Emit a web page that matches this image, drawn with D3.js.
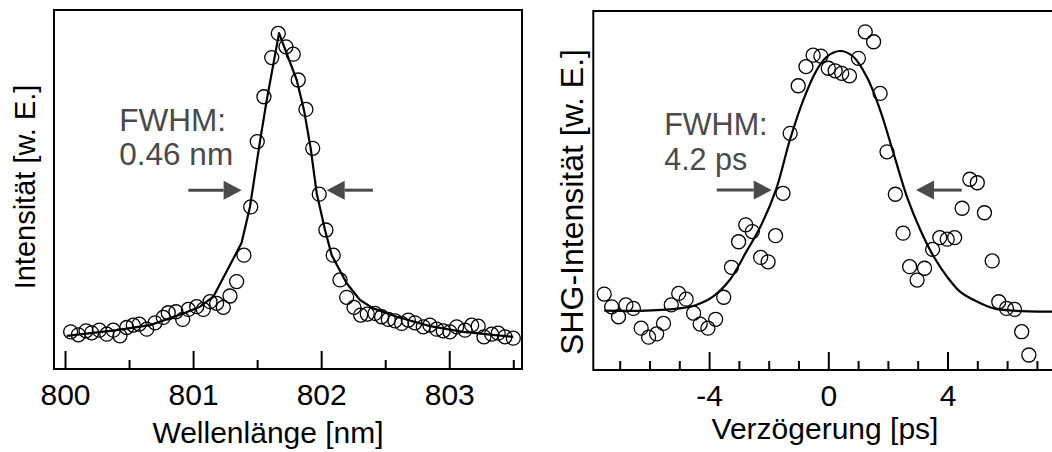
<!DOCTYPE html>
<html>
<head>
<meta charset="utf-8">
<script src="https://cdn.jsdelivr.net/npm/d3@7"></script>
<style>
  html, body { margin: 0; padding: 0; background: #fff; }
  svg { display: block; font-family: "Liberation Sans", Arial, Helvetica, sans-serif; }
</style>
</head>
<body>
<svg id="chart" width="1052" height="452"></svg>
<script>
// ---- Spectrum (left panel) ----
const specWl = [800.044,800.104,800.164,800.208,800.268,800.326,800.377,800.429,800.482,800.533,
  800.580,800.638,800.703,800.767,800.806,800.866,800.919,800.963,801.028,801.080,
  801.132,801.184,801.236,801.288,801.340,801.397,801.450,801.501,801.553,801.614,
  801.665,801.725,801.782,801.821,801.881,801.934,801.985,802.037,802.094,802.147,
  802.199,802.256,802.308,802.360,802.420,802.472,802.524,802.576,802.628,802.680,
  802.732,802.797,802.849,802.902,802.953,803.005,803.058,803.123,803.175,803.226,
  803.271,803.331,803.382,803.435,803.500];
const specI = [0.108,0.099,0.111,0.105,0.113,0.101,0.113,0.096,0.121,0.128,
  0.131,0.116,0.135,0.151,0.165,0.168,0.145,0.175,0.183,0.175,
  0.198,0.193,0.181,0.215,0.258,0.337,0.481,0.676,0.810,0.927,
  0.999,0.959,0.937,0.860,0.772,0.656,0.519,0.412,0.337,0.263,
  0.211,0.181,0.158,0.161,0.163,0.153,0.145,0.141,0.133,0.143,
  0.135,0.123,0.128,0.116,0.111,0.108,0.123,0.113,0.128,0.125,
  0.093,0.101,0.104,0.093,0.089];
const specFitWl = [800.013,800.404,800.664,800.923,801.054,801.158,801.378,801.444,801.522,801.575,
  801.671,801.809,801.866,801.918,801.965,802.030,802.082,802.199,802.303,802.407,
  802.589,802.849,803.109,803.500];
const specFitI = [0.096,0.113,0.128,0.163,0.183,0.213,0.373,0.481,0.676,0.800,
  1.000,0.860,0.770,0.656,0.522,0.412,0.337,0.253,0.203,0.178,
  0.153,0.125,0.108,0.093];
const specMajorTicks = [800, 801, 802, 803];
const specMinorTicks = [800.5, 801.5, 802.5, 803.5];

// ---- Autocorrelation (right panel) ----
const acDelay = [-7.52,-7.27,-7.04,-6.79,-6.54,-6.28,-6.03,-5.76,-5.53,-5.27,
  -5.02,-4.77,-4.52,-4.30,-4.04,-3.78,-3.51,-3.25,-3.01,-2.77,
  -2.55,-2.27,-2.02,-1.77,-1.52,-1.28,-1.01,-0.75,-0.51,-0.25,
  0.00,0.23,0.45,0.71,1.01,1.24,1.52,1.74,1.97,2.25,
  2.51,2.73,2.98,3.23,3.50,3.74,3.99,4.24,4.49,4.75,
  5.00,5.24,5.50,5.72,5.98,6.25,6.49,6.73];
const acSignal = [0.238,0.198,0.167,0.204,0.193,0.131,0.103,0.113,0.146,0.204,
  0.240,0.222,0.178,0.144,0.131,0.159,0.228,0.322,0.402,0.455,
  0.434,0.353,0.339,0.421,0.554,0.742,0.891,0.951,0.987,0.984,
  0.946,0.938,0.930,0.922,0.977,1.060,1.029,0.867,0.684,0.551,
  0.429,0.324,0.282,0.319,0.378,0.415,0.410,0.415,0.507,0.598,
  0.587,0.493,0.342,0.214,0.193,0.190,0.120,0.047];
const acFitDelay = [-7.52,-6.11,-4.99,-4.43,-3.87,-3.31,-2.75,-2.30,-1.76,-1.29,
  -0.84,-0.39,-0.05,0.39,0.84,1.29,1.74,2.19,2.64,3.09,
  3.54,3.99,4.43,5.00,5.56,6.23,7.46,8.00];
const acFitSignal = [0.186,0.186,0.193,0.204,0.230,0.282,0.371,0.445,0.564,0.721,
  0.846,0.940,0.982,1.000,0.982,0.919,0.815,0.679,0.543,0.439,
  0.355,0.292,0.245,0.214,0.193,0.186,0.183,0.183];
const acMajorTicks = [-4, 0, 4];
const acMinorTicks = [-7,-6,-5,-3,-2,-1,1,2,3,5,6,7];

// FWHM annotations: [x, y] in data units
const specFwhmText = { lines: ["FWHM:", "0.46 nm"], x: 800.424, y: [0.708, 0.606] };
const specArrows = [ { from: 800.963, to: 801.379, y: 0.531 }, { from: 802.404, to: 802.043, y: 0.531 } ];
const acFwhmText = { lines: ["FWHM:", "4.2 ps"], x: -5.507, y: [0.737, 0.627] };
const acArrows = [ { from: -3.745, to: -1.899, y: 0.564 }, { from: 4.477, to: 2.943, y: 0.564 } ];

const svg = d3.select("#chart");
svg.append("rect").attr("width", 1052).attr("height", 452).attr("fill", "#fff");

const INK = "#000";
const ANNO = "#4a4a4a";

function drawPanel(cfg) {
  const g = svg.append("g");
  const { x, y, box } = cfg;

  // clip for everything inside the frame
  const clipId = cfg.id + "-clip";
  svg.append("clipPath").attr("id", clipId)
    .append("rect").attr("x", box.l).attr("y", box.t - 2)
    .attr("width", box.r - box.l).attr("height", box.b - box.t + 2);

  // ticks (pointing inward) and labels
  const major = d3.axisBottom(x).tickValues(cfg.major).tickSize(-18).tickSizeOuter(0)
    .tickPadding(15).tickFormat(cfg.fmt);
  const minor = d3.axisBottom(x).tickValues(cfg.minor).tickSize(-9).tickSizeOuter(0)
    .tickFormat("");
  [major, minor].forEach(ax => {
    const a = g.append("g").attr("transform", `translate(0,${box.b})`).call(ax);
    a.select(".domain").remove();
    a.selectAll(".tick line").attr("stroke", INK).attr("stroke-width", 2);
    a.selectAll(".tick text").attr("fill", INK).attr("font-size", 30)
      .attr("font-family", "Liberation Sans, Arial, sans-serif");
  });

  // frame
  const frame = g.append("g").attr("stroke", INK).attr("stroke-width", 2).attr("fill", "none");
  frame.append("line").attr("x1", box.l).attr("x2", box.r).attr("y1", box.b).attr("y2", box.b);
  frame.append("line").attr("x1", box.l).attr("x2", box.r).attr("y1", box.t).attr("y2", box.t);
  frame.append("line").attr("x1", box.l).attr("x2", box.l).attr("y1", box.t - 1).attr("y2", box.b + 1);
  if (cfg.rightEdge) {
    frame.append("line").attr("x1", box.r).attr("x2", box.r).attr("y1", box.t - 1).attr("y2", box.b + 1);
  }

  const plot = g.append("g").attr("clip-path", `url(#${clipId})`);

  // fitted curve
  const fit = d3.zip(cfg.fitX, cfg.fitY);
  plot.append("path").datum(fit)
    .attr("fill", "none").attr("stroke", INK).attr("stroke-width", 2.2)
    .attr("stroke-linejoin", "round")
    .attr("d", d3.line().x(d => x(d[0])).y(d => y(d[1])).curve(cfg.curve));

  // measured points
  plot.append("g").selectAll("circle").data(d3.zip(cfg.px, cfg.py)).join("circle")
    .attr("cx", d => x(d[0])).attr("cy", d => y(d[1])).attr("r", 7)
    .attr("fill", "none").attr("stroke", INK).attr("stroke-width", 1.3);

  // FWHM label
  const t = cfg.fwhmText;
  t.lines.forEach((line, i) => {
    g.append("text").attr("x", x(t.x)).attr("y", y(t.y[i]))
      .attr("fill", ANNO).attr("font-size", cfg.fwhmSize).text(line);
  });

  // FWHM arrows
  cfg.arrows.forEach(a => {
    const x0 = x(a.from), x1 = x(a.to), yy = y(a.y);
    const dir = Math.sign(x1 - x0);
    const head = 18, half = 9.5;
    g.append("line").attr("x1", x0).attr("x2", x1 - dir * head).attr("y1", yy).attr("y2", yy)
      .attr("stroke", ANNO).attr("stroke-width", 3);
    g.append("path")
      .attr("d", `M${x1},${yy}L${x1 - dir * head},${yy - half}L${x1 - dir * head},${yy + half}Z`)
      .attr("fill", ANNO);
  });

  // axis titles
  g.append("text").attr("x", cfg.xTitle.x).attr("y", cfg.xTitle.y)
    .attr("text-anchor", "middle").attr("font-size", 30).attr("fill", INK).text(cfg.xTitle.text);
  g.append("text")
    .attr("transform", `translate(${cfg.yTitle.x},${cfg.yTitle.y}) rotate(-90)`)
    .attr("text-anchor", "middle").attr("font-size", cfg.yTitle.size).attr("fill", INK)
    .text(cfg.yTitle.text);
}

// Left: laser spectrum
const boxL = { l: 54, r: 522, t: 10, b: 369 };
const xSpec = d3.scaleLinear().domain([799.914, 803.568]).range([boxL.l, boxL.r]);
const ySpec = d3.scaleLinear().domain([0, 1.069]).range([368, boxL.t]);
drawPanel({
  id: "spec", x: xSpec, y: ySpec, box: boxL, rightEdge: true,
  major: specMajorTicks, minor: specMinorTicks, fmt: d3.format("d"),
  fitX: specFitWl, fitY: specFitI, curve: d3.curveLinear,
  px: specWl, py: specI,
  fwhmText: specFwhmText, fwhmSize: 31.5, arrows: specArrows,
  xTitle: { text: "Wellenlänge [nm]", x: 268, y: 443 },
  yTitle: { text: "Intensität [w. E.]", x: 35, y: 187, size: 29 }
});

// Right: SHG autocorrelation
const boxR = { l: 593.3, r: 1060, t: 11, b: 370 };
const xAc = d3.scaleLinear().domain([-7.886, 8]).range([boxR.l, boxR.l + 15.886 * 29.8]);
const yAc = d3.scaleLinear().domain([0, 1.1254]).range([boxR.b, boxR.t]);
drawPanel({
  id: "ac", x: xAc, y: yAc, box: boxR, rightEdge: false,
  major: acMajorTicks, minor: acMinorTicks, fmt: d => (d < 0 ? "-" + Math.abs(d) : String(d)),
  fitX: acFitDelay, fitY: acFitSignal, curve: d3.curveCatmullRom,
  px: acDelay, py: acSignal,
  fwhmText: acFwhmText, fwhmSize: 30.5, arrows: acArrows,
  xTitle: { text: "Verzögerung [ps]", x: 825, y: 439 },
  yTitle: { text: "SHG-Intensität [w. E.]", x: 583, y: 202, size: 32 }
});
</script>
</body>
</html>
